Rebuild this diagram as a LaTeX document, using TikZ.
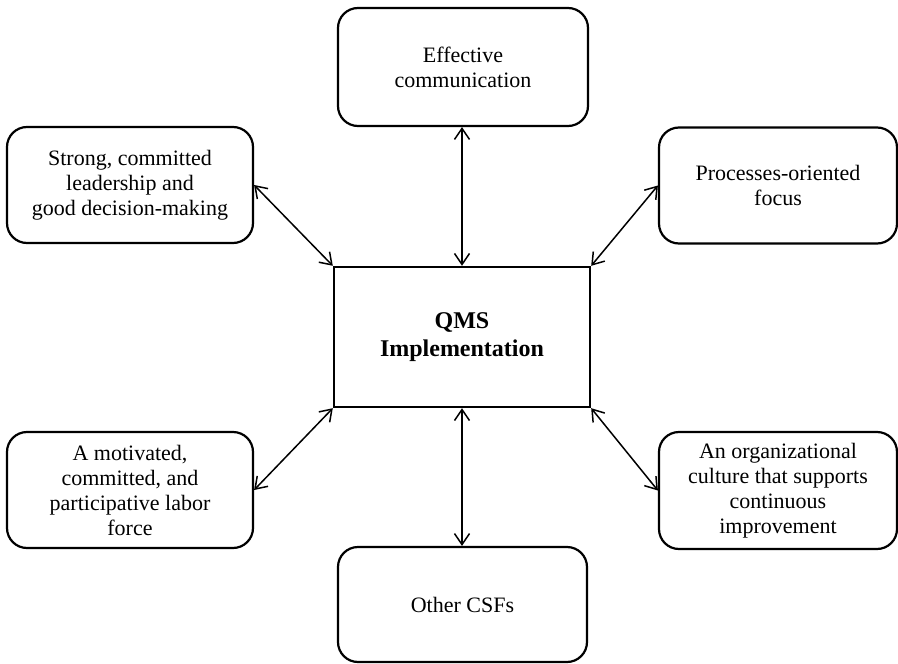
\documentclass[tikz,border=0pt]{standalone}
\usepackage{fontspec}
\setmainfont{Liberation Serif}
\usetikzlibrary{arrows.meta}
\begin{document}
\begin{tikzpicture}[x=1pt,y=-1pt,
  csf/.style={draw, line width=2.2pt, rounded corners=20pt, align=center,
    inner sep=0pt, font=\fontsize{22}{25}\selectfont},
  core/.style={draw, line width=2.4pt, align=center, inner sep=0pt,
    font=\bfseries\fontsize{24}{28}\selectfont},
  link/.style={line width=1.5pt,
    {Straight Barb[length=11pt,width=15pt]}-{Straight Barb[length=11pt,width=15pt]}}]
\useasboundingbox (0,0) rectangle (898,664);

% central box
\node[core, minimum width=256pt, minimum height=140pt] (qms) at (462,337)
  {QMS\\Implementation};

% critical success factors around it
\node[csf, minimum width=250pt, minimum height=118pt] (top) at (463,67)
  {Effective\\communication};
\node[csf, minimum width=246pt, minimum height=116pt] (tl) at (130,185)
  {Strong, committed\\leadership and\\good decision-making};
\node[csf, minimum width=238pt, minimum height=116pt] (tr) at (778,185.5)
  {Processes-oriented\\focus};
\node[csf, minimum width=246pt, minimum height=116pt] (bl) at (130,490)
  {A motivated,\\committed, and\\participative labor\\force};
\node[csf, minimum width=238pt, minimum height=117pt] (br) at (778,490.5)
  {An organizational\\culture that supports\\continuous\\improvement};
\node[csf, minimum width=249pt, minimum height=115pt] (bot) at (462.5,604.5)
  {Other CSFs};

% two-way links
\draw[link] (qms.north) -- (qms.north |- top.south);
\draw[link] (qms.south) -- (qms.south |- bot.north);
\draw[link] (tl.east) -- (qms.north west);
\draw[link] (tr.west) -- (qms.north east);
\draw[link] (bl.east) -- (qms.south west);
\draw[link] (br.west) -- (qms.south east);
\end{tikzpicture}
\end{document}
